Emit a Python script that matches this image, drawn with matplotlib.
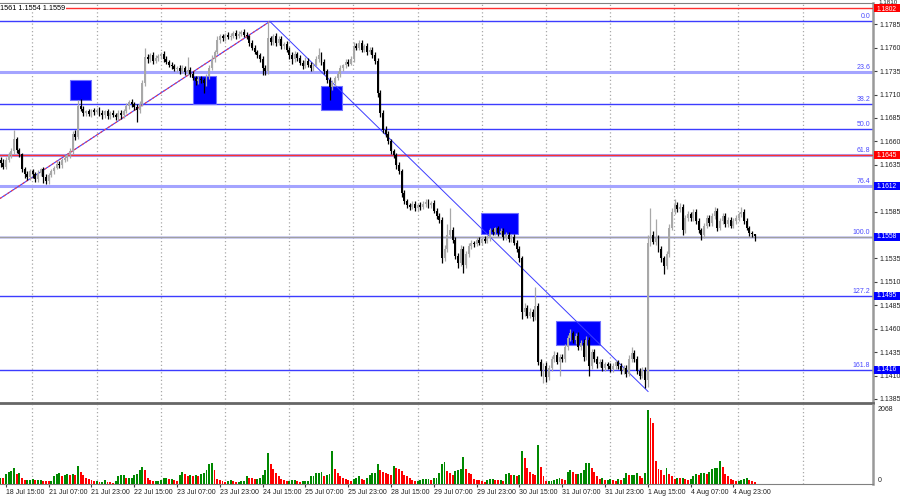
import numpy as np
import matplotlib
matplotlib.use("Agg")
import matplotlib.pyplot as plt
from matplotlib.patches import Rectangle
from matplotlib.transforms import blended_transform_factory

plt.rcParams['font.family'] = ['Liberation Sans', 'DejaVu Sans']

# ===== DATA (EURUSD H1) =====
first_open = 1.1640
close = [
    1.1637, 1.1633, 1.1640, 1.1645, 1.1650, 1.1662, 1.1651, 1.1646, 1.1630, 1.1625,
    1.1622, 1.1628, 1.1625, 1.1620, 1.1626, 1.1630, 1.1622, 1.1618, 1.1624, 1.1628,
    1.1632, 1.1636, 1.1635, 1.1640, 1.1642, 1.1645, 1.1650, 1.1668, 1.1665, 1.1698,
    1.1695, 1.1690, 1.1692, 1.1689, 1.1693, 1.1691, 1.1694, 1.1690, 1.1688, 1.1692,
    1.1687, 1.1690, 1.1688, 1.1686, 1.1690, 1.1688, 1.1692, 1.1698, 1.1702, 1.1700,
    1.1697, 1.1693, 1.1700, 1.1722, 1.1750, 1.1748, 1.1752, 1.1746, 1.1749, 1.1751,
    1.1753, 1.1748, 1.1745, 1.1742, 1.1740, 1.1737, 1.1738, 1.1735, 1.1738, 1.1734,
    1.1736, 1.1732, 1.1728, 1.1724, 1.1727, 1.1725, 1.1722, 1.1730, 1.1738, 1.1748,
    1.1755, 1.1768, 1.1772, 1.1770, 1.1774, 1.1771, 1.1773, 1.1776, 1.1772, 1.1775,
    1.1777, 1.1774, 1.1772, 1.1765, 1.1760, 1.1755, 1.1752, 1.1748, 1.1738, 1.1735,
    1.1770, 1.1766, 1.1772, 1.1765, 1.1769, 1.1762, 1.1764, 1.1758, 1.1752, 1.1748,
    1.1753, 1.1749, 1.1744, 1.1740, 1.1746, 1.1742, 1.1738, 1.1742, 1.1748, 1.1752,
    1.1745, 1.1735, 1.1726, 1.1718, 1.1722, 1.1728, 1.1732, 1.1738, 1.1741, 1.1745,
    1.1743, 1.1748, 1.1762, 1.1760, 1.1765, 1.1758, 1.1762, 1.1755, 1.1758, 1.1752,
    1.1746, 1.1712, 1.1690, 1.1672, 1.1668, 1.1660, 1.1650, 1.1645, 1.1635, 1.1628,
    1.1605, 1.1596, 1.1592, 1.1590, 1.1593, 1.1589, 1.1592, 1.1590, 1.1593, 1.1595,
    1.1592, 1.1594, 1.1586, 1.1580, 1.1576, 1.1536, 1.1545, 1.1560, 1.1565, 1.1555,
    1.1538, 1.1530, 1.1545, 1.1528, 1.1540, 1.1548, 1.1552, 1.1550, 1.1555, 1.1552,
    1.1556, 1.1554, 1.1557, 1.1565, 1.1563, 1.1567, 1.1562, 1.1564, 1.1558, 1.1560,
    1.1556, 1.1558, 1.1552, 1.1545, 1.1535, 1.1478, 1.1482, 1.1474, 1.1478, 1.1472,
    1.1484, 1.1425, 1.1415, 1.1420, 1.1408, 1.1418, 1.1428, 1.1432, 1.1425, 1.1430,
    1.1428, 1.1440, 1.1450, 1.1455, 1.1448, 1.1452, 1.1440, 1.1445, 1.1430, 1.1448,
    1.1420, 1.1435, 1.1428, 1.1422, 1.1425, 1.1418, 1.1422, 1.1420, 1.1417, 1.1420,
    1.1424, 1.1420, 1.1415, 1.1418, 1.1412, 1.1428, 1.1434, 1.1428, 1.1415, 1.1410,
    1.1416, 1.1405, 1.1552, 1.1560, 1.1553, 1.1557, 1.1545, 1.1535, 1.1527, 1.1540,
    1.1568, 1.1585, 1.1592, 1.1588, 1.1590, 1.1565, 1.1578, 1.1582, 1.1578, 1.1585,
    1.1575, 1.1565, 1.1560, 1.1570, 1.1578, 1.1573, 1.1580, 1.1586, 1.1568, 1.1575,
    1.1580, 1.1572, 1.1576, 1.1570, 1.1575, 1.1578, 1.1582, 1.1585, 1.1575, 1.1568,
    1.1562, 1.1561, 1.1559,
]
# wick lengths in pips above max(open, close) and below min(open, close)
wick_up = [
    3, 4, 3, 4, 3, 10, 3, 2, 2, 3,   3, 2, 3, 2, 3, 2, 3, 3, 2, 3,
    2, 3, 3, 2, 3, 2, 3, 3, 4, 6,    7, 3, 2, 3, 2, 3, 2, 3, 3, 2,
    3, 2, 3, 2, 3, 3, 3, 3, 2, 3,    2, 3, 3, 4, 10, 3, 2, 3, 3, 2,
    2, 3, 3, 2, 3, 3, 2, 3, 3, 2,    14, 3, 3, 2, 3, 3, 3, 2, 3, 4,
    3, 4, 3, 3, 2, 3, 3, 2, 3, 3,    2, 3, 3, 2, 3, 3, 3, 2, 3, 3,
    18, 3, 3, 4, 3, 3, 2, 3, 3, 3,   3, 2, 3, 3, 4, 3, 3, 2, 3, 8,
    3, 3, 2, 3, 3, 2, 3, 3, 2, 3,    3, 3, 4, 3, 3, 3, 2, 3, 3, 3,
    3, 3, 3, 3, 4, 3, 3, 2, 3, 3,    3, 3, 3, 2, 3, 3, 2, 3, 3, 3,
    3, 2, 3, 3, 3, 3, 4, 12, 24, 4,  3, 3, 4, 3, 3, 3, 3, 2, 3, 3,
    3, 3, 3, 3, 3, 2, 3, 3, 3, 3,    3, 3, 3, 3, 3, 3, 5, 3, 4, 3,
    20, 3, 3, 3, 4, 3, 3, 4, 3, 3,   3, 4, 3, 5, 3, 3, 4, 3, 4, 4,
    3, 3, 3, 3, 3, 3, 3, 3, 3, 3,    3, 3, 3, 3, 3, 4, 6, 3, 3, 3,
    3, 3, 8, 29, 4, 20, 3, 3, 3, 3,  4, 4, 6, 3, 4, 3, 3, 4, 3, 3,
    3, 3, 3, 3, 3, 3, 3, 4, 3, 3,    3, 3, 3, 3, 3, 3, 3, 5, 3, 3,
    2, 2, 0,
]
wick_dn = [
    4, 3, 3, 2, 3, 3, 3, 3, 3, 4,    3, 3, 4, 3, 3, 3, 6, 4, 3, 2,
    3, 2, 3, 3, 2, 3, 3, 3, 4, 2,    3, 3, 3, 2, 3, 3, 2, 3, 4, 3,
    3, 3, 2, 3, 3, 4, 3, 2, 3, 3,    3, 12, 3, 2, 3, 4, 3, 3, 2, 3,
    3, 3, 2, 3, 3, 2, 3, 3, 2, 3,    3, 3, 3, 4, 3, 3, 10, 3, 3, 2,
    3, 2, 3, 3, 3, 2, 3, 3, 3, 2,    3, 3, 3, 3, 3, 2, 3, 3, 7, 4,
    3, 3, 3, 3, 2, 3, 3, 3, 4, 5,    3, 3, 3, 3, 2, 3, 3, 3, 2, 3,
    3, 3, 4, 14, 3, 3, 2, 3, 3, 3,   3, 2, 3, 3, 3, 3, 3, 3, 2, 3,
    3, 5, 4, 3, 3, 3, 3, 3, 4, 3,    4, 3, 3, 3, 2, 3, 3, 3, 2, 3,
    3, 3, 3, 3, 3, 6, 4, 3, 3, 3,    4, 5, 3, 8, 3, 3, 3, 3, 2, 3,
    3, 3, 3, 3, 3, 3, 3, 2, 3, 3,    3, 3, 3, 3, 4, 8, 4, 3, 3, 4,
    3, 4, 5, 13, 5, 3, 3, 3, 3, 16,  3, 3, 3, 3, 3, 4, 3, 3, 4, 3,
    11, 3, 3, 4, 3, 3, 3, 3, 3, 3,   3, 3, 3, 3, 4, 3, 3, 3, 3, 4,
    3, 8, 7, 4, 3, 4, 3, 4, 9, 3,    3, 3, 3, 3, 3, 5, 3, 3, 3, 3,
    3, 3, 5, 3, 3, 3, 3, 3, 4, 3,    3, 3, 3, 3, 3, 3, 3, 3, 3, 3,
    3, 3, 5,
]
volume = [
    180, 155, 290, 330, 360, 455, 270, 300, 180, 110,
    110, 110, 140, 100, 110, 110, 95, 90, 70, 95,
    230, 270, 300, 210, 245, 270, 245, 270, 250, 500,
    340, 245, 180, 135, 110, 90, 90, 45, 65, 110,
    65, 45, 30, 90, 230, 245, 245, 165, 165, 180,
    245, 270, 390, 470, 390, 180, 120, 90, 90, 90,
    110, 155, 155, 135, 135, 120, 90, 245, 320, 270,
    210, 245, 210, 245, 230, 270, 300, 390, 565, 580,
    390, 135, 120, 90, 65, 90, 120, 90, 65, 65,
    90, 90, 210, 180, 155, 135, 135, 155, 240, 390,
    865, 565, 430, 300, 230, 135, 110, 90, 90, 110,
    110, 90, 65, 90, 90, 90, 210, 230, 300, 300,
    320, 230, 245, 270, 910, 410, 300, 230, 180, 135,
    110, 90, 135, 180, 210, 135, 120, 155, 245, 300,
    300, 545, 390, 320, 300, 270, 245, 500, 455, 410,
    360, 245, 210, 155, 110, 90, 90, 110, 135, 135,
    135, 120, 155, 180, 300, 545, 610, 360, 300, 245,
    360, 390, 430, 755, 410, 300, 270, 135, 120, 110,
    90, 65, 110, 135, 135, 120, 110, 110, 90, 270,
    300, 245, 245, 230, 245, 910, 710, 440, 320, 270,
    250, 1075, 475, 210, 90, 90, 90, 120, 135, 155,
    135, 120, 340, 380, 340, 270, 275, 300, 400, 575,
    580, 455, 320, 210, 135, 165, 110, 110, 135, 120,
    90, 135, 120, 180, 300, 245, 245, 245, 300, 210,
    180, 300, 2068, 1820, 1700, 640, 410, 400, 250, 455,
    270, 230, 135, 180, 155, 175, 135, 110, 150, 220,
    270, 245, 300, 300, 270, 340, 410, 455, 455, 640,
    480, 270, 210, 135, 120, 90, 95, 110, 135, 155,
    120, 90, 65,
]

time_labels = ['18 Jul 15:00', '21 Jul 07:00', '21 Jul 23:00', '22 Jul 15:00',
               '23 Jul 07:00', '23 Jul 23:00', '24 Jul 15:00', '25 Jul 07:00',
               '25 Jul 23:00', '28 Jul 15:00', '29 Jul 07:00', '29 Jul 23:00',
               '30 Jul 15:00', '31 Jul 07:00', '31 Jul 23:00', '1 Aug 15:00',
               '4 Aug 07:00', '4 Aug 23:00']
label_first_bar = 2
label_step = 16

# Fibonacci from 1.1788 (0.0) to 1.1558 (100.0)
fib_start = 1.1788
fib_end = 1.1558
fib_levels = [0.0, 23.6, 38.2, 50.0, 61.8, 76.4, 100.0, 127.2, 161.8]

# horizontal lines with price boxes on the scale
red_lines = [1.1802, 1.1645]
box_prices = [1.1802, 1.1645, 1.1612, 1.1558, 1.1495, 1.1416]
box_colors = ['#ff0000', '#ff0000', '#0000ff', '#0000ff', '#0000ff', '#0000ff']
bid_price = 1.1558

# blue zones: bar from / to, price low / high
zone_bar0 = [26.0, 72.0, 119.7, 179.6, 207.5]
zone_bar1 = [33.8, 80.6, 127.6, 193.4, 224.2]
zone_lo = [1.1704, 1.1700, 1.1694, 1.1561, 1.14425]
zone_hi = [1.1726, 1.1730, 1.1719, 1.1583, 1.14684]

# trend lines (bar, price)
up_line_x = [-0.2, 100.7]
up_line_y = [1.1599, 1.1788]
down_line_x = [100.7, 242.1]
down_line_y = [1.1788, 1.1393]

header = '1561 1.1554 1.1559'

# ===== PREP =====
close = np.array(close)
n = len(close)
opens = np.concatenate([[first_open], close[:-1]])
highs = np.maximum(opens, close) + np.array(wick_up) / 10000
lows = np.minimum(opens, close) - np.array(wick_dn) / 10000
volume = np.array(volume)
idx = np.arange(n)
bull = close >= opens

# MT4 volumes: green when volume grows, red when it falls
vol_up = np.concatenate([[True], volume[1:] >= volume[:-1]])

FS = 5.0

# ===== FIGURE =====
W, H = 900, 500
fig = plt.figure(figsize=(9, 5), dpi=100)
fig.patch.set_facecolor('white')

ax = fig.add_axes([0, 1 - 403 / H, 873 / W, 400 / H])
axv = fig.add_axes([0, 1 - 484 / H, 873 / W, 79 / H], sharex=ax)

xmin, xmax = -0.2, 326.2
ymin, ymax = 1.13807, 1.18077
ax.set_xlim(xmin, xmax)
ax.set_ylim(ymin, ymax)
px = (ymax - ymin) / 400.0   # price per pixel
bt = blended_transform_factory(ax.transAxes, ax.transData)

# grid (vertical dotted)
for k in range(13):
    gx = 11.9 + 24 * k
    ax.axvline(gx, color='#a8a8a8', lw=0.9, ls=(0, (1, 2)), zorder=1)
    axv.axvline(gx, color='#a8a8a8', lw=0.9, ls=(0, (1, 2)), zorder=1)

# fib levels
for lv in fib_levels:
    p = fib_start - (fib_start - fib_end) * lv / 100
    if lv in (23.6, 61.8, 76.4):
        ax.axhline(p, color='#a4a4ff', lw=2.2, zorder=2)
    else:
        ax.axhline(p, color='#3c3cff', lw=1.0, zorder=2)
    ax.text(0.997, p + 1.0 * px, '%.1f' % lv, transform=bt,
            ha='right', va='bottom', fontsize=FS, color='#4a4aff', zorder=6)

ax.axhline(bid_price, color='#a0a0a0', lw=1.0, zorder=2)
for p in red_lines:
    ax.axhline(p, color='#ff3030', lw=1.0, zorder=3)

# zones
for b0, b1, lo, hi in zip(zone_bar0, zone_bar1, zone_lo, zone_hi):
    ax.add_patch(Rectangle((b0, lo), b1 - b0, hi - lo, facecolor='#0000ff',
                           edgecolor='#7070ff', lw=0.8, zorder=3))

# trend lines
ax.plot(up_line_x, up_line_y, color='#4040ff', lw=0.8, zorder=4)
ax.plot(up_line_x, up_line_y, color='#ff4040', lw=0.8, ls=(0, (2, 2)), zorder=4)
ax.plot(down_line_x, down_line_y, color='#3c3cff', lw=0.7, zorder=4)

# candles
ccol = np.where(bull, '#a8a8a8', '#000000')
ax.vlines(idx, lows, highs, colors=ccol, lw=0.9, zorder=5)
body_h = np.maximum(np.abs(close - opens), 0.4 * px)
ax.bar(idx, body_h, bottom=np.minimum(opens, close), width=0.72, color=ccol,
       linewidth=0, zorder=5)

# price scale (labels under the price boxes are left out)
ax.yaxis.tick_right()
yt = np.arange(1.1385, 1.1786, 0.0025)
hidden = ['1.1610', '1.1560']
ax.set_yticks(yt)
ax.set_yticklabels(['' if ('%.4f' % v) in hidden else '%.4f' % v for v in yt],
                   fontsize=FS, color='#202020')
ax.tick_params(axis='y', length=3, width=0.8, color='#404040', pad=2)
ax.tick_params(axis='x', bottom=False, labelbottom=False)
fig.text(878 / W, 1.0, '1.1810', ha='left', va='top', fontsize=4.5, color='#202020')

for p, c in zip(box_prices, box_colors):
    ax.add_patch(Rectangle((1.0 + 1 / 873, p - 4.0 * px), 26 / 873, 8.0 * px, transform=bt,
                           facecolor=c, edgecolor='none', clip_on=False, zorder=10))
    dy = -1.0 * px if p == box_prices[0] else 0.0
    ax.text(1.0 + 4 / 873, p + dy, '%.4f' % p, transform=bt, ha='left', va='center',
            fontsize=4.8, color='white', clip_on=False, zorder=11)

ax.text(0.0, 1 - 5 / 400, header, transform=ax.transAxes, ha='left', va='center',
        fontsize=FS + 0.3, color='#000000', zorder=12,
        bbox=dict(facecolor='white', edgecolor='none', pad=0.6))

ax.spines['left'].set_visible(False)
ax.spines['top'].set_color('#808080')
ax.spines['right'].set_color('#999999')
ax.spines['right'].set_linewidth(1.8)
ax.spines['bottom'].set_color('#666666')
ax.spines['bottom'].set_linewidth(2.0)

# volume
vcol = np.where(vol_up, '#008800', '#ff0000')
axv.bar(idx, volume, width=0.72, color=vcol, linewidth=0, zorder=3)
axv.set_ylim(0, 2068 * 79 / 74.5)
axv.yaxis.tick_right()
axv.set_yticks([])
vt = blended_transform_factory(axv.transAxes, axv.transData)
axv.text(1.0 + 5 / 873, 2068, '2068', transform=vt, ha='left', va='center', fontsize=FS,
         color='#202020', clip_on=False)
axv.text(1.0 + 5 / 873, 90, '0', transform=vt, ha='left', va='center', fontsize=FS,
         color='#202020', clip_on=False)

label_pos = [label_first_bar + label_step * k for k in range(len(time_labels))]
axv.set_xticks(label_pos)
axv.set_xticklabels(time_labels, fontsize=FS, color='#202020', ha='left')
axv.tick_params(axis='x', length=2, width=0.8, color='#404040', pad=1.5)
axv.spines['left'].set_visible(False)
axv.spines['top'].set_visible(False)
axv.spines['right'].set_color('#999999')
axv.spines['right'].set_linewidth(1.8)
axv.spines['bottom'].set_color('#808080')
axv.set_xlim(xmin, xmax)

fig.savefig('out.png', dpi=100, facecolor='white')
